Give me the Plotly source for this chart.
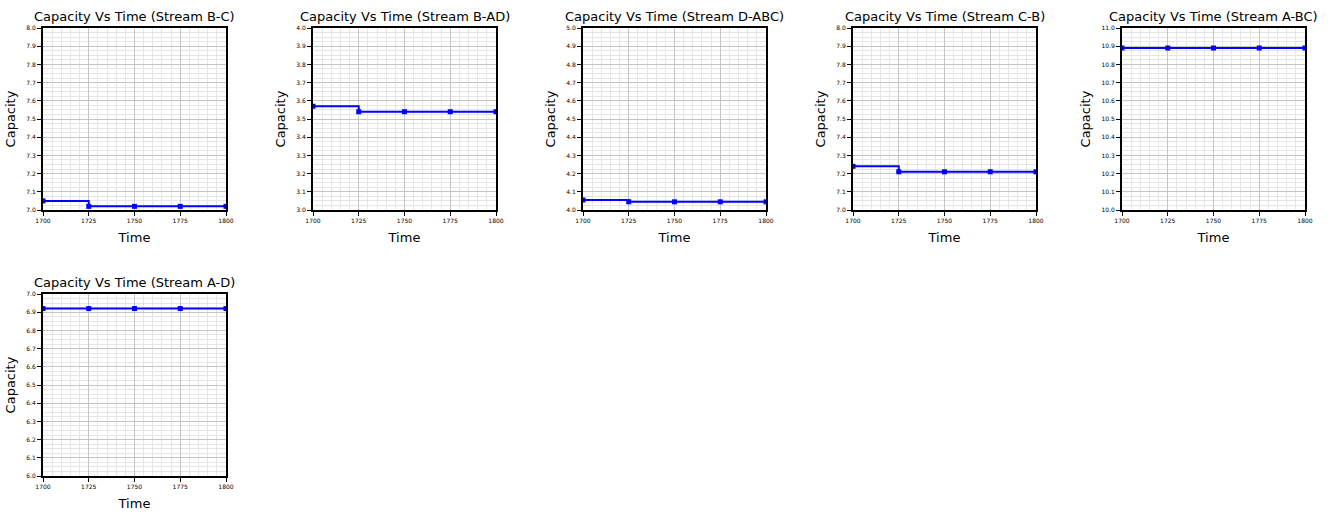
import plotly.graph_objects as go

# time points (shared by every stream)
TIME = [1700, 1725, 1750, 1775, 1800]

STREAMS = ["B-C", "B-AD", "D-ABC", "C-B", "A-BC", "A-D"]

# capacity values
CAP_BC = [7.05, 7.02, 7.02, 7.02, 7.02]
CAP_BAD = [3.57, 3.54, 3.54, 3.54, 3.54]
CAP_DABC = [4.055, 4.045, 4.045, 4.045, 4.045]
CAP_CB = [7.24, 7.21, 7.21, 7.21, 7.21]
CAP_ABC = [10.89, 10.89, 10.89, 10.89, 10.89]
CAP_AD = [6.92, 6.92, 6.92, 6.92, 6.92]

# lower edge of each y axis (each axis spans 1.0)
Y_BASE = [7.0, 3.0, 4.0, 7.0, 10.0, 6.0]

CAPS = [CAP_BC, CAP_BAD, CAP_DABC, CAP_CB, CAP_ABC, CAP_AD]

W, H = 1330, 515
# plot-area pixel boxes: (left, top)
BOXES = [(43, 28), (313, 28), (583, 28), (853, 28), (1122, 28), (43, 294)]
PW, PH = 183, 182

fig = go.Figure()

for i, (name, caps, base) in enumerate(zip(STREAMS, CAPS, Y_BASE)):
    n = "" if i == 0 else str(i + 1)
    left, top = BOXES[i]
    fig.add_trace(go.Scatter(
        x=TIME, y=caps,
        mode="lines+markers",
        line=dict(color="#0000ff", width=2, shape="hv"),
        marker=dict(symbol="square", size=5, color="#0000ff"),
        xaxis="x" + n, yaxis="y" + n,
        showlegend=False,
    ))
    xdom = [left / W, (left + PW) / W]
    ydom = [1 - (top + PH) / H, 1 - top / H]
    fig.layout["xaxis" + n] = dict(
        domain=xdom, anchor="y" + n, automargin=False,
        range=[TIME[0], TIME[-1]],
        tickvals=TIME, tickformat="d",
        showgrid=True, gridcolor="#c4c4c4", gridwidth=1,
        minor=dict(dtick=5, showgrid=True, gridcolor="#e6e6e6", gridwidth=1),
        showline=True, linecolor="black", linewidth=2, mirror=True,
        ticks="outside", ticklen=4, tickcolor="black", tickwidth=1,
        tickfont=dict(size=6, color="black"),
        zeroline=False,
        title=dict(text="Time", font=dict(size=13, color="black"), standoff=10),
    )
    fig.layout["yaxis" + n] = dict(
        domain=ydom, anchor="x" + n, automargin=False,
        range=[base, base + 1.0],
        dtick=0.1, tickformat=".1f",
        showgrid=True, gridcolor="#c4c4c4", gridwidth=1,
        minor=dict(dtick=0.025, showgrid=True, gridcolor="#e6e6e6", gridwidth=1),
        showline=True, linecolor="black", linewidth=2, mirror=True,
        ticks="outside", ticklen=4, tickcolor="black", tickwidth=1,
        tickfont=dict(size=6, color="black"),
        zeroline=False,
        title=dict(text="Capacity", font=dict(size=13, color="black"), standoff=8),
    )
    fig.add_annotation(
        text="Capacity Vs Time (Stream %s)" % name,
        x=(left + PW / 2) / W, y=1 - (top - 2) / H,
        xref="paper", yref="paper",
        xanchor="center", yanchor="bottom",
        showarrow=False,
        font=dict(size=13, color="black"),
    )

fig.update_layout(
    width=W, height=H,
    margin=dict(l=0, r=0, t=0, b=0),
    paper_bgcolor="white",
    plot_bgcolor="white",
    font=dict(family="DejaVu Sans, sans-serif", color="black"),
)

# drop the default page margin so the figure sits at the window's corner
fig.write_html("out.html", config={"displayModeBar": False},
               post_script="document.body.style.margin='0';")
